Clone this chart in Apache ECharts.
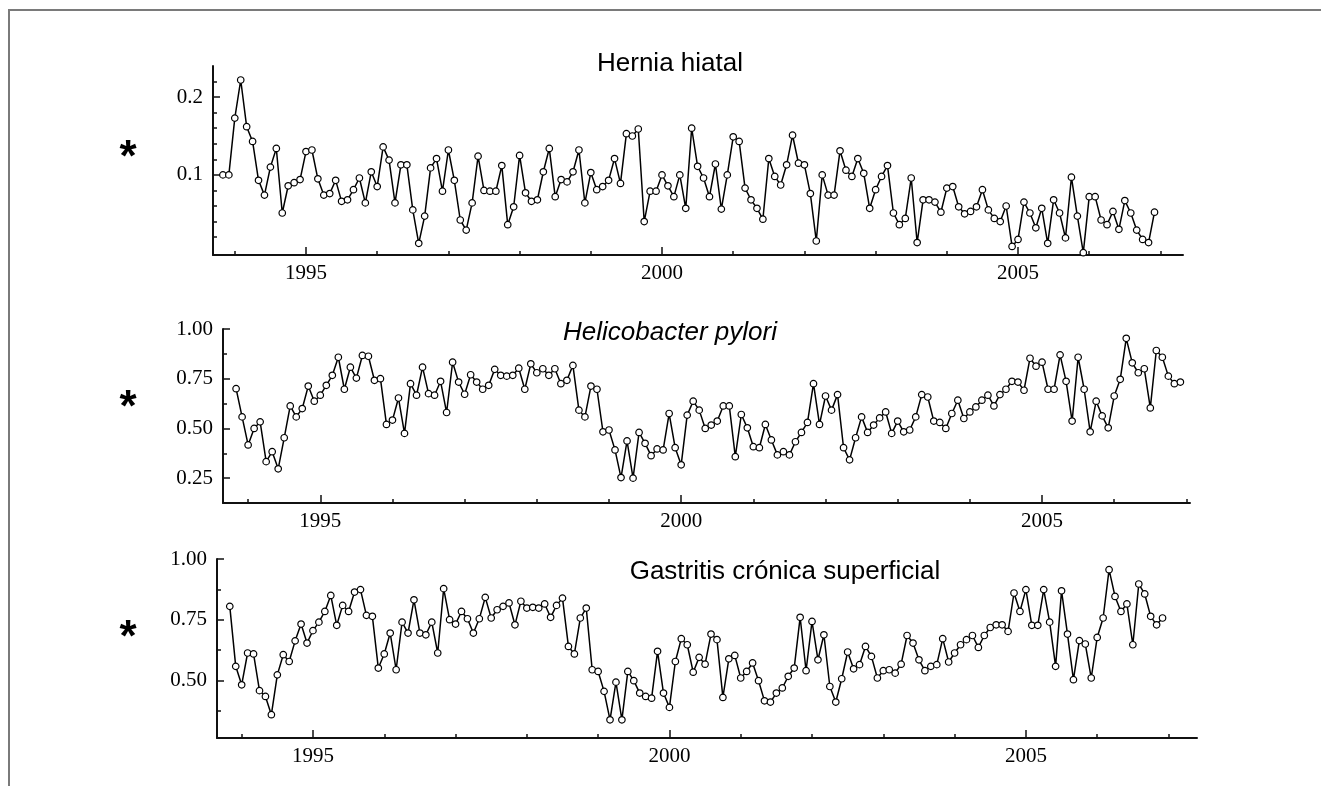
<!DOCTYPE html>
<html>
<head>
<meta charset="utf-8">
<title>Series mensuales</title>
<script src="https://cdn.jsdelivr.net/npm/echarts@6/dist/echarts.min.js"></script>
<style>
  html, body { margin: 0; padding: 0; background: #fff; }
  #chart { width: 1321px; height: 786px; }
</style>
</head>
<body>
<div id="chart"></div>
<script>
// monthly proportions, Nov 1993 - Dec 2006
const herniaHiatal = [
  0.100, 0.100, 0.173, 0.222, 0.162, 0.143, 0.093, 0.074, 0.110, 0.134,
  0.051, 0.086, 0.090, 0.094, 0.130, 0.132, 0.095, 0.074, 0.076, 0.093,
  0.066, 0.068, 0.081, 0.096, 0.064, 0.104, 0.085, 0.136, 0.119, 0.064,
  0.113, 0.113, 0.055, 0.012, 0.047, 0.109, 0.121, 0.079, 0.132, 0.093,
  0.042, 0.029, 0.064, 0.124, 0.080, 0.079, 0.079, 0.112, 0.036, 0.059,
  0.125, 0.077, 0.066, 0.068, 0.104, 0.134, 0.072, 0.094, 0.091, 0.104,
  0.132, 0.064, 0.103, 0.081, 0.085, 0.093, 0.121, 0.089, 0.153, 0.150,
  0.159, 0.040, 0.079, 0.079, 0.100, 0.086, 0.072, 0.100, 0.057, 0.160,
  0.111, 0.096, 0.072, 0.114, 0.056, 0.100, 0.149, 0.143, 0.083, 0.068,
  0.057, 0.043, 0.121, 0.098, 0.087, 0.113, 0.151, 0.115, 0.113, 0.076,
  0.015, 0.100, 0.074, 0.074, 0.131, 0.106, 0.098, 0.121, 0.102, 0.057,
  0.081, 0.098, 0.112, 0.051, 0.036, 0.044, 0.096, 0.013, 0.068, 0.068,
  0.065, 0.052, 0.083, 0.085, 0.059, 0.050, 0.053, 0.059, 0.081, 0.055,
  0.044, 0.040, 0.060, 0.008, 0.017, 0.065, 0.051, 0.032, 0.057, 0.012,
  0.068, 0.051, 0.019, 0.097, 0.047, 0.000, 0.072, 0.072, 0.042, 0.036,
  0.053, 0.030, 0.067, 0.051, 0.029, 0.017, 0.013, 0.052
];

const helicobacter = [
  0.700, 0.558, 0.417, 0.500, 0.533, 0.333, 0.383, 0.297, 0.453, 0.613,
  0.558, 0.600, 0.713, 0.637, 0.667, 0.717, 0.767, 0.858, 0.697, 0.808,
  0.753, 0.867, 0.863, 0.742, 0.750, 0.520, 0.542, 0.653, 0.475, 0.725,
  0.667, 0.808, 0.675, 0.667, 0.737, 0.580, 0.833, 0.733, 0.672, 0.770,
  0.733, 0.697, 0.717, 0.797, 0.767, 0.763, 0.767, 0.803, 0.697, 0.825,
  0.780, 0.800, 0.767, 0.800, 0.725, 0.742, 0.817, 0.592, 0.558, 0.713,
  0.697, 0.483, 0.492, 0.392, 0.253, 0.437, 0.250, 0.480, 0.425, 0.363,
  0.397, 0.392, 0.575, 0.403, 0.317, 0.567, 0.637, 0.592, 0.500, 0.517,
  0.537, 0.613, 0.613, 0.358, 0.570, 0.503, 0.408, 0.403, 0.520, 0.442,
  0.367, 0.383, 0.367, 0.433, 0.480, 0.530, 0.725, 0.520, 0.663, 0.592,
  0.670, 0.403, 0.342, 0.453, 0.558, 0.480, 0.517, 0.553, 0.583, 0.475,
  0.537, 0.483, 0.492, 0.558, 0.670, 0.658, 0.537, 0.530, 0.500, 0.575,
  0.642, 0.550, 0.583, 0.608, 0.642, 0.667, 0.613, 0.670, 0.697, 0.737,
  0.733, 0.692, 0.853, 0.813, 0.833, 0.697, 0.697, 0.870, 0.737, 0.537,
  0.858, 0.697, 0.483, 0.637, 0.563, 0.503, 0.663, 0.747, 0.953, 0.830,
  0.780, 0.800, 0.603, 0.892, 0.858, 0.763, 0.725, 0.733
];

const gastritis = [
  0.805, 0.558, 0.482, 0.613, 0.609, 0.458, 0.434, 0.359, 0.523, 0.606,
  0.578, 0.663, 0.732, 0.654, 0.705, 0.740, 0.784, 0.850, 0.727, 0.809,
  0.784, 0.864, 0.874, 0.768, 0.764, 0.551, 0.609, 0.695, 0.544, 0.740,
  0.695, 0.832, 0.695, 0.688, 0.740, 0.613, 0.878, 0.750, 0.732, 0.784,
  0.754, 0.695, 0.754, 0.842, 0.757, 0.791, 0.805, 0.819, 0.729, 0.826,
  0.798, 0.801, 0.798, 0.815, 0.760, 0.809, 0.839, 0.640, 0.609, 0.757,
  0.798, 0.544, 0.537, 0.455, 0.338, 0.493, 0.338, 0.537, 0.499, 0.448,
  0.434, 0.427, 0.620, 0.448, 0.389, 0.578, 0.672, 0.647, 0.534, 0.595,
  0.567, 0.691, 0.668, 0.430, 0.589, 0.603, 0.510, 0.537, 0.572, 0.499,
  0.416, 0.411, 0.448, 0.469, 0.517, 0.551, 0.760, 0.540, 0.743, 0.585,
  0.688, 0.475, 0.411, 0.507, 0.617, 0.548, 0.565, 0.640, 0.599, 0.510,
  0.540, 0.544, 0.530, 0.567, 0.685, 0.654, 0.585, 0.540, 0.558, 0.565,
  0.672, 0.576, 0.613, 0.647, 0.668, 0.685, 0.636, 0.685, 0.718, 0.729,
  0.729, 0.702, 0.860, 0.784, 0.874, 0.727, 0.727, 0.874, 0.740, 0.558,
  0.869, 0.691, 0.503, 0.664, 0.650, 0.510, 0.677, 0.757, 0.956, 0.846,
  0.784, 0.815, 0.647, 0.897, 0.856, 0.764, 0.729, 0.757
];

const firstMonth = 1993 + 10 / 12; // noviembre 1993
const yearLabels = [1995, 2000, 2005];
const yearTicks = [1994, 1995, 1996, 1997, 1998, 1999, 2000, 2001, 2002, 2003, 2004, 2005, 2006, 2007];

const herniaLabels = [0.1, 0.2];
const herniaTicks = [0.02, 0.04, 0.06, 0.08, 0.12, 0.14, 0.16, 0.18, 0.22];
const pyloriLabels = [0.25, 0.5, 0.75, 1.0];
const pyloriTicks = [0.125, 0.375, 0.625, 0.875];
const gastritisLabels = [0.5, 0.75, 1.0];
const gastritisTicks = [0.375, 0.625, 0.875];

const panels = [
  { name: "Hernia hiatal", data: herniaHiatal, italic: false,
    grid: { left: 213, top: 66, width: 970, height: 189 },
    x: [1993.694, 2007.317], y: [-0.003, 0.24], digits: 1,
    yLabels: herniaLabels, yTicks: herniaTicks,
    title: [670, 64], star: 159 },
  { name: "Helicobacter pylori", data: helicobacter, italic: true,
    grid: { left: 223, top: 329, width: 967, height: 174 },
    x: [1993.652, 2007.05], y: [0.125, 1.0], digits: 2,
    yLabels: pyloriLabels, yTicks: pyloriTicks,
    title: [670, 333], star: 409 },
  { name: "Gastritis crónica superficial", data: gastritis, italic: false,
    grid: { left: 217, top: 559, width: 980, height: 179 },
    x: [1993.654, 2007.40], y: [0.263, 1.0], digits: 2,
    yLabels: gastritisLabels, yTicks: gastritisTicks,
    title: [785, 572], star: 639 },
];

const labelFont = { color: "#000", fontFamily: "Liberation Serif", fontSize: 21 };
const tickLine = { color: "#111", width: 1.5 };

const chart = echarts.init(document.getElementById("chart"));

const grids = [], xAxes = [], yAxes = [], series = [], graphics = [];

panels.forEach((p, i) => {
  grids.push(p.grid);

  // main axes: line, long ticks and labels
  xAxes.push({
    type: "value", gridIndex: i, position: "bottom", min: p.x[0], max: p.x[1],
    axisLine: { show: true, onZero: false, lineStyle: { color: "#111", width: 2 } },
    splitLine: { show: false },
    axisTick: { inside: true, length: 8, customValues: yearLabels, lineStyle: tickLine },
    axisLabel: { customValues: yearLabels, margin: 8, formatter: (v) => String(Math.round(v)), ...labelFont },
  });
  // short yearly ticks on the same baseline
  xAxes.push({
    type: "value", gridIndex: i, position: "bottom", offset: 0, min: p.x[0], max: p.x[1],
    axisLine: { show: false, onZero: false }, splitLine: { show: false }, axisLabel: { show: false },
    axisTick: { inside: true, length: 4, customValues: yearTicks, lineStyle: tickLine },
  });

  yAxes.push({
    type: "value", gridIndex: i, position: "left", min: p.y[0], max: p.y[1],
    axisLine: { show: true, onZero: false, lineStyle: { color: "#111", width: 2 } },
    splitLine: { show: false },
    axisTick: { inside: true, length: 7, customValues: p.yLabels, lineStyle: tickLine },
    axisLabel: { customValues: p.yLabels, margin: 10, formatter: (v) => v.toFixed(p.digits), ...labelFont },
  });
  yAxes.push({
    type: "value", gridIndex: i, position: "left", offset: 0, min: p.y[0], max: p.y[1],
    axisLine: { show: false, onZero: false }, splitLine: { show: false }, axisLabel: { show: false },
    axisTick: { inside: true, length: 4, customValues: p.yTicks, lineStyle: tickLine },
  });

  series.push({
    type: "line",
    name: p.name,
    xAxisIndex: 2 * i,
    yAxisIndex: 2 * i,
    data: p.data.map((v, k) => [firstMonth + k / 12, v]),
    symbol: "circle",
    symbolSize: 6.5,
    showAllSymbol: true,
    itemStyle: { color: "#fff", borderColor: "#000", borderWidth: 1.2 },
    lineStyle: { color: "#000", width: 1.5 },
    emphasis: { disabled: true },
    animation: false,
  });

  graphics.push({
    type: "text", x: p.title[0], y: p.title[1],
    style: {
      text: p.name, fill: "#000",
      font: (p.italic ? "italic " : "") + "26px 'Liberation Sans', Arial, sans-serif",
      textAlign: "center", textVerticalAlign: "middle",
    },
  });
  graphics.push({
    type: "text", x: 128, y: p.star,
    style: {
      text: "*", fill: "#000", font: "bold 44px 'Liberation Sans', Arial, sans-serif",
      textAlign: "center", textVerticalAlign: "middle",
    },
  });
});

// outer frame (top and left edges only)
graphics.push({
  type: "polyline",
  shape: { points: [[9, 786], [9, 10], [1321, 10]] },
  style: { stroke: "#7a7a7a", lineWidth: 2, fill: null },
});

chart.setOption({
  backgroundColor: "#fff",
  animation: false,
  grid: grids,
  xAxis: xAxes,
  yAxis: yAxes,
  series: series,
  graphic: graphics,
});
</script>
</body>
</html>
